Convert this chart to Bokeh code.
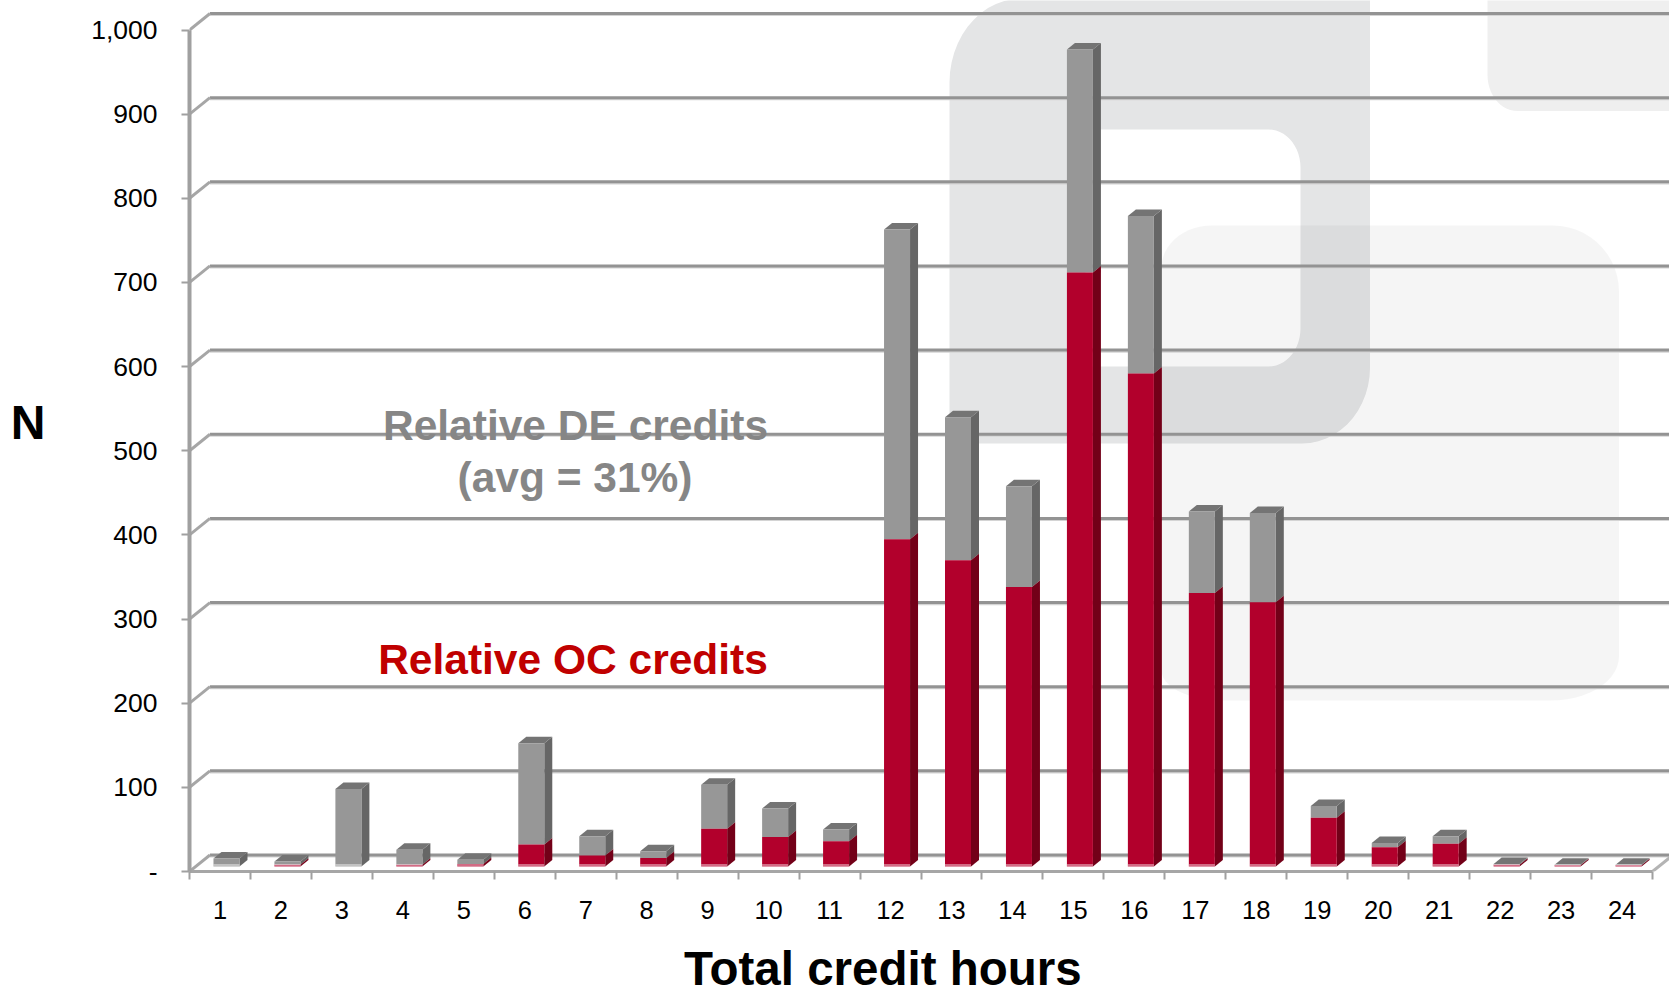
from bokeh.plotting import figure
from bokeh.embed import file_html
from bokeh.resources import INLINE
from bokeh.core.properties import value
from bokeh.models import Range1d, FixedTicker, LinearAxis, Title
import numpy as np

# ---- data ----
hours = list(range(1, 25))
oc_credits = [0, 2, 0, 2, 3, 26, 13, 10, 45, 35, 30, 389, 364, 332, 706, 586, 325, 314, 58, 23, 27, 2, 1.5, 1.5]
de_credits = [9.5, 4, 92, 18, 5, 120.5, 23, 8, 52, 34, 14, 368, 170, 120, 265, 187, 97, 106, 14, 5, 9, 1, 0.5, 0.5]
y_ticks = [0, 100, 200, 300, 400, 500, 600, 700, 800, 900, 1000]
y_tick_labels = ["-", "100", "200", "300", "400", "500", "600", "700", "800", "900", "1,000"]

# ---- page geometry (page pixels) ----
PW, PH = 1669, 995
LEFT, BOTTOM = 189.0, 871.0     # page position of the axes origin
PX_X, PX_Y = 60.96, 0.8415      # px per category, px per unit
bx = lambda px: 0.5 + (px - LEFT) / PX_X
by = lambda py: (BOTTOM - py) / PX_Y
dxpx = lambda d: d / PX_X
dypx = lambda d: d / PX_Y

p = figure(width=PW, height=PH, output_backend="svg", toolbar_location=None,
           x_range=Range1d(0.5, bx(PW)), y_range=Range1d(0, by(0)),
           min_border_left=int(LEFT), min_border_bottom=int(PH - BOTTOM),
           min_border_top=0, min_border_right=0)
p.outline_line_color = None
p.grid.visible = False
p.background_fill_color = "white"
p.border_fill_color = "white"


def rrect(x0, y0, x1, y1, r_tl, r_tr, r_br, r_bl):
    """rounded rectangle outline in page px; r_* are (rx, ry)"""
    t = np.linspace(0, np.pi / 2, 14)
    xs, ys = [], []
    for (cx, cy, (rx, ry), a) in [
        (x0 + r_tl[0], y0 + r_tl[1], r_tl, np.pi),
        (x1 - r_tr[0], y0 + r_tr[1], r_tr, 1.5 * np.pi),
        (x1 - r_br[0], y1 - r_br[1], r_br, 0),
        (x0 + r_bl[0], y1 - r_bl[1], r_bl, 0.5 * np.pi),
    ]:
        xs += list(cx + rx * np.cos(a + t))
        ys += list(cy + ry * np.sin(a + t))
    return [bx(v) for v in xs], [by(v) for v in ys]


# ---- watermark ----
ax, ay = rrect(949, -2, 1369.5, 443, (72, 84), (0, 0), (68, 76), (18, 18))
hx, hy = rrect(1085, 129, 1300, 366, (0, 0), (32, 38), (32, 38), (0, 0))
p.multi_polygons(xs=[[[ax, hx]]], ys=[[[ay, hy]]], fill_color="#e4e5e6", line_color=None)
cx, cy = rrect(1487, -40, 1720, 110.5, (0, 0), (0, 0), (0, 0), (30, 36))
p.patch(cx, cy, fill_color="#efefef", line_color=None)
bxs, bys = rrect(1161, 225, 1618.5, 700, (50, 42), (66, 66), (68, 44), (62, 30))
p.patch(bxs, bys, fill_color="#000000", fill_alpha=0.04, line_color=None)

# ---- 3-D walls ----
DEPTH_X, DEPTH_Y = dxpx(20.5), dypx(16.5)
x_end = bx(PW)
back_x = [[0.5 + DEPTH_X, x_end] for _ in y_ticks]
back_y = [[v + DEPTH_Y, v + DEPTH_Y] for v in y_ticks]
p.multi_line(back_x, [[v - dypx(1.6) for v in ys] for ys in back_y],
             line_color="#d4d4d4", line_width=2)
p.multi_line(back_x, back_y, line_color="#939393", line_width=3)
side_x = [[0.5, 0.5 + DEPTH_X] for _ in y_ticks]
side_y = [[v, v + DEPTH_Y] for v in y_ticks]
p.multi_line(side_x, side_y, line_color="#a6a6a6", line_width=3)
p.line([24.5, 24.5 + DEPTH_X], [0, DEPTH_Y], line_color="#b4b4b4", line_width=3)

# ---- 3-D bars ----
oc = np.array(oc_credits, float)
de = np.array(de_credits, float)
cats = np.array(hours, float)
BASE = dypx(5)
X0, X1 = dxpx(-6.5), dxpx(19.5)
SX, SY = dxpx(8), dypx(6.5)

left = cats + X0
right = cats + X1
oc_top = BASE + oc
all_top = oc_top + de


def side(y0, y1):
    xs = [[r, r + SX, r + SX, r] for r in right]
    ys = [[a, a + SY, b + SY, b] for a, b in zip(y0, y1)]
    return xs, ys


sx, sy = side(oc_top, all_top)
p.patches(sx, sy, fill_color="#666666", line_color=None)
sx, sy = side(np.full_like(oc, BASE), oc_top)
p.patches(sx, sy, fill_color="#730018", line_color=None)
tx = [[l, l + SX, r + SX, r] for l, r in zip(left, right)]
ty = [[t, t + SY, t + SY, t] for t in all_top]
p.patches(tx, ty, fill_color="#747474", line_color=None)
p.quad(left=left, right=right, bottom=oc_top, top=all_top, fill_color="#979797", line_color=None)
p.quad(left=left, right=right, bottom=BASE, top=oc_top, fill_color="#b2002c", line_color=None)
# pale reflection along the foot of each bar
p.quad(left=left, right=right, bottom=BASE, top=BASE + dypx(2.5), fill_color="white", fill_alpha=0.42, line_color=None)

# ---- annotations ----
ann_text = ["Relative DE credits", "(avg = 31%)", "Relative OC credits"]
ann_x = [bx(575), bx(574.5), bx(572.5)]
ann_y = [by(425), by(477), by(658.5)]
ann_col = ["#868686", "#868686", "#c00000"]
p.text(ann_x, ann_y, text=ann_text, text_color=ann_col, text_font=value("Liberation Sans"),
       text_font_style="bold", text_font_size="42.5px", text_align="center", text_baseline="middle")

# ---- axes ----
xa = p.xaxis[0]
xa.ticker = FixedTicker(ticks=hours, minor_ticks=[h - 0.5 for h in hours] + [24.5])
xa.bounds = (0.5, 24.5)
xa.axis_line_color = "#a6a6a6"
xa.axis_line_width = 3
xa.major_tick_line_color = None
xa.major_tick_in = 0
xa.major_tick_out = 8
xa.minor_tick_line_color = "#a0a0a0"
xa.minor_tick_line_width = 2
xa.minor_tick_in = 0
xa.minor_tick_out = 8
xa.major_label_text_font = "Liberation Sans"
xa.major_label_text_font_size = "25.5px"
xa.major_label_text_color = "black"
xa.major_label_standoff = 21

ya = p.yaxis[0]
ya.ticker = FixedTicker(ticks=y_ticks, minor_ticks=[])
ya.bounds = (0, 1000)
ya.major_label_overrides = dict(zip(y_ticks, y_tick_labels))
ya.axis_line_color = "#a0a0a0"
ya.axis_line_width = 4
ya.major_tick_line_color = "#a0a0a0"
ya.major_tick_line_width = 2
ya.major_tick_in = 0
ya.major_tick_out = 8
ya.minor_tick_line_color = None
ya.major_label_text_font = "Liberation Sans"
ya.major_label_text_font_size = "26.5px"
ya.major_label_text_color = "black"
ya.major_label_standoff = 24

# ---- axis titles ----
p.add_layout(Title(text=" \nTotal credit hours", align="left", offset=683.5 - LEFT, standoff=0,
                   text_font="Liberation Sans", text_font_style="bold", text_font_size="47.5px",
                   text_line_height=0.36, text_color="black"), "below")

n_axis = LinearAxis(ticker=FixedTicker(ticks=[], minor_ticks=[]), axis_line_color=None,
                    major_tick_line_color=None, minor_tick_line_color=None,
                    major_tick_out=0, major_tick_in=0, minor_tick_out=0, minor_tick_in=0,
                    major_label_text_font_size="1px", major_label_standoff=0,
                    axis_label="N\n ", axis_label_text_font="Liberation Sans", axis_label_text_font_style="bold",
                    axis_label_text_font_size="48px", axis_label_text_color="black",
                    axis_label_text_line_height=0.5,
                    axis_label_standoff=43, axis_label_orientation="horizontal")
p.add_layout(n_axis, "left")

open("out.html", "w").write(file_html(p, INLINE))
